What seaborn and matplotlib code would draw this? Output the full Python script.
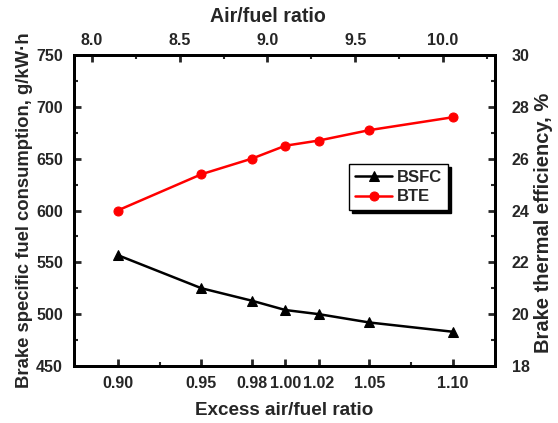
import matplotlib
matplotlib.use("Agg")
import matplotlib.pyplot as plt
import seaborn as sns
import pandas as pd
from matplotlib.ticker import MultipleLocator, FixedLocator

sns.set_style("ticks")
plt.rcParams['font.family'] = ['Liberation Sans', 'DejaVu Sans']
plt.rcParams['font.weight'] = 'bold'

excess_ratio = [0.90, 0.95, 0.98, 1.00, 1.02, 1.05, 1.10]
bsfc = [557, 525, 513, 504, 500, 492, 483]
bte = [24.0, 25.4, 26.0, 26.5, 26.7, 27.1, 27.6]
x_tick_labels = ["0.90", "0.95", "0.98", "1.00", "1.02", "1.05", "1.10"]
top_ticks = [8.0, 8.5, 9.0, 9.5, 10.0]

df = pd.DataFrame({"lam": excess_ratio, "BSFC": bsfc, "BTE": bte})

fig = plt.figure(figsize=(5.58, 4.23), dpi=100)
ax = fig.add_axes([74/558, 1-366/423, 421/558, 311/423])
ax2 = ax.twinx()
ax3 = ax.twiny()

sns.lineplot(data=df, x="lam", y="BSFC", ax=ax, color="black", marker="^",
             markersize=7, linewidth=1.8, markeredgecolor="black", label="BSFC", legend=False)
sns.lineplot(data=df, x="lam", y="BTE", ax=ax2, color="red", marker="o",
             markersize=6.5, linewidth=1.8, markeredgecolor="red", label="BTE", legend=False)

ax.set_xlim(0.874, 1.125)
ax.set_ylim(450, 750)
ax2.set_ylim(18, 30)
ax3.set_xlim(7.897, 10.297)

ax.xaxis.set_major_locator(FixedLocator(excess_ratio))
ax.set_xticklabels(x_tick_labels)
ax.xaxis.set_minor_locator(FixedLocator([0.925, 1.075]))
ax.yaxis.set_major_locator(MultipleLocator(50))
ax.yaxis.set_minor_locator(MultipleLocator(25))
ax2.yaxis.set_major_locator(MultipleLocator(2))
ax2.yaxis.set_minor_locator(MultipleLocator(1))
ax3.xaxis.set_major_locator(FixedLocator(top_ticks))
ax3.set_xticklabels([f"{t:.1f}" for t in top_ticks])
ax3.xaxis.set_minor_locator(MultipleLocator(0.25))

for a in (ax, ax2, ax3):
    for s in a.spines.values():
        s.set_linewidth(2.0)
        s.set_color("black")
    a.tick_params(which="major", direction="in", length=5, width=2.0, labelsize=11.5, pad=5)
    a.tick_params(which="minor", direction="in", length=3, width=1.5)
    for lbl in a.get_xticklabels() + a.get_yticklabels():
        lbl.set_fontweight("bold")

ax.tick_params(axis="x", pad=7)
ax.tick_params(axis="y", pad=8)
ax2.tick_params(axis="y", pad=12)

ax.set_xlabel("Excess air/fuel ratio", fontsize=13.6, fontweight="bold", labelpad=8)
ax.set_ylabel("Brake specific fuel consumption, g/kW\u00b7h", fontsize=13.3, fontweight="bold", labelpad=2)
ax2.set_ylabel("Brake thermal efficiency, %", fontsize=14.5, fontweight="bold")
ax2.yaxis.set_label_coords(1.092, 0.46)
ax3.set_xlabel("Air/fuel ratio", fontsize=14.1, fontweight="bold")
ax3.xaxis.set_label_coords(0.46, 1.105)

h1, l1 = ax.get_legend_handles_labels()
h2, l2 = ax2.get_legend_handles_labels()
leg = ax2.legend(h1 + h2, l1 + l2, loc="upper right", bbox_to_anchor=(0.888, 0.648),
                 borderaxespad=0,
                 frameon=True, shadow={'color': 'black', 'alpha': 1}, fancybox=False,
                 prop={'weight': 'bold', 'size': 12}, handlelength=2.2,
                 borderpad=0.35, labelspacing=0.25, handletextpad=0.3)
leg.get_frame().set_edgecolor("black")
leg.get_frame().set_linewidth(1.0)

fig.savefig("out.png", dpi=100)
